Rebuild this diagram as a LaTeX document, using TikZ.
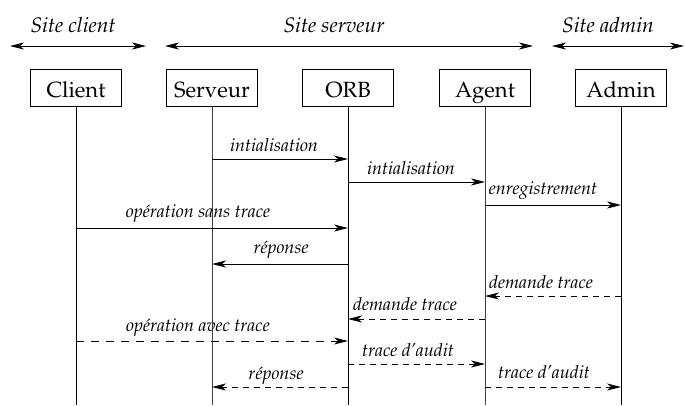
\documentclass[tikz,border=0pt]{standalone}
\usepackage[T1]{fontenc}
\usepackage{mathpazo}
\usetikzlibrary{arrows.meta}
\begin{document}
\begin{tikzpicture}[x=1pt,y=-1pt,
  tip/.style={-{Stealth[length=14pt,width=7pt,inset=4pt]}},
  both/.style={{Stealth[length=14pt,width=7pt,inset=4pt]}-{Stealth[length=14pt,width=7pt,inset=4pt]}},
  actor/.style={draw,line width=0.8pt,minimum width=91pt,minimum height=37pt,inner sep=0pt,
    text height=21pt,text depth=2pt,font=\fontsize{22}{25}\selectfont},
  life/.style={line width=0.9pt},
  msg/.style={tip,line width=0.9pt},
  dmsg/.style={tip,line width=0.9pt,dash pattern=on 6pt off 5pt},
  lbl/.style={font=\fontsize{18}{20}\selectfont\itshape,inner sep=0pt},
  site/.style={font=\fontsize{21}{23}\selectfont\itshape,inner sep=0pt}]
\useasboundingbox (0,0) rectangle (685,405);

% participants
\node[actor] (cli) at (76,87.5)  {Client};
\node[actor] (srv) at (212,87.5) {Serveur};
\node[actor] (orb) at (348,87.5) {ORB};
\node[actor] (agt) at (485,87.5) {Agent};
\node[actor] (adm) at (621,87.5) {Admin};

% lifelines
\coordinate (cliE) at (76,405);
\coordinate (srvE) at (212,405);
\coordinate (orbE) at (348,405);
\coordinate (agtE) at (485,405);
\coordinate (admE) at (621,405);
\draw[life] (cli.south) -- (cliE);
\draw[life,black!75] (srv.south) -- (srvE);
\draw[life] (orb.south) -- (orbE);
\draw[life,black!75] (agt.south) -- (agtE);
\draw[life] (adm.south) -- (admE);

% sites
\coordinate (c1) at (10,46);  \coordinate (c2) at (146,46);
\coordinate (s1) at (165,46); \coordinate (s2) at (533,46);
\coordinate (a1) at (552,46); \coordinate (a2) at (684,46);
\draw[both,line width=0.8pt] (c1) -- (c2);
\draw[both,line width=0.8pt] (s1) -- (s2);
\draw[both,line width=0.8pt] (a1) -- (a2);
\node[site] (sc) at (73,25)  {Site client};
\node[site] (ss) at (334,25) {Site serveur};
\node[site] (sa) at (608,25) {Site admin};

% messages without trace
\draw[msg] (srv.south |- 0,159) -- (orb.south |- 0,159);
\node[lbl] (m1) at (274,145) {intialisation};
\draw[msg] (orb.south |- 0,182) -- (agt.south |- 0,182);
\node[lbl] (m2) at (411,168) {intialisation};
\draw[msg] (agt.south |- 0,205) -- (adm.south |- 0,205);
\node[lbl] (m3) at (543,190) {enregistrement};
\draw[msg] (cli.south |- 0,228) -- (orb.south |- 0,228);
\node[lbl] (m4) at (198,213) {op\'eration sans trace};
\draw[msg] (orb.south |- 0,264) -- (srv.south |- 0,264);
\node[lbl] (m5) at (281,250) {r\'eponse};

% messages with trace
\draw[dmsg] (adm.south |- 0,296) -- (agt.south |- 0,296);
\node[lbl] (m6) at (541,282) {demande trace};
\draw[dmsg] (agt.south |- 0,319) -- (orb.south |- 0,319);
\node[lbl] (m7) at (405,304) {demande trace};
\draw[dmsg,dash pattern=on 8pt off 7pt] (cli.south |- 0,341) -- (orb.south |- 0,341);
\node[lbl] (m8) at (198,327) {op\'eration avec trace};
\draw[dmsg] (orb.south |- 0,364) -- (agt.south |- 0,364);
\node[lbl] (m9) at (408,350) {trace d'audit};
\draw[dmsg] (agt.south |- 0,387) -- (adm.south |- 0,387);
\node[lbl] (m10) at (544,372) {trace d'audit};
\draw[dmsg] (orb.south |- 0,387) -- (srv.south |- 0,387);
\node[lbl] (m11) at (276,376) {r\'eponse};
\end{tikzpicture}
\end{document}
